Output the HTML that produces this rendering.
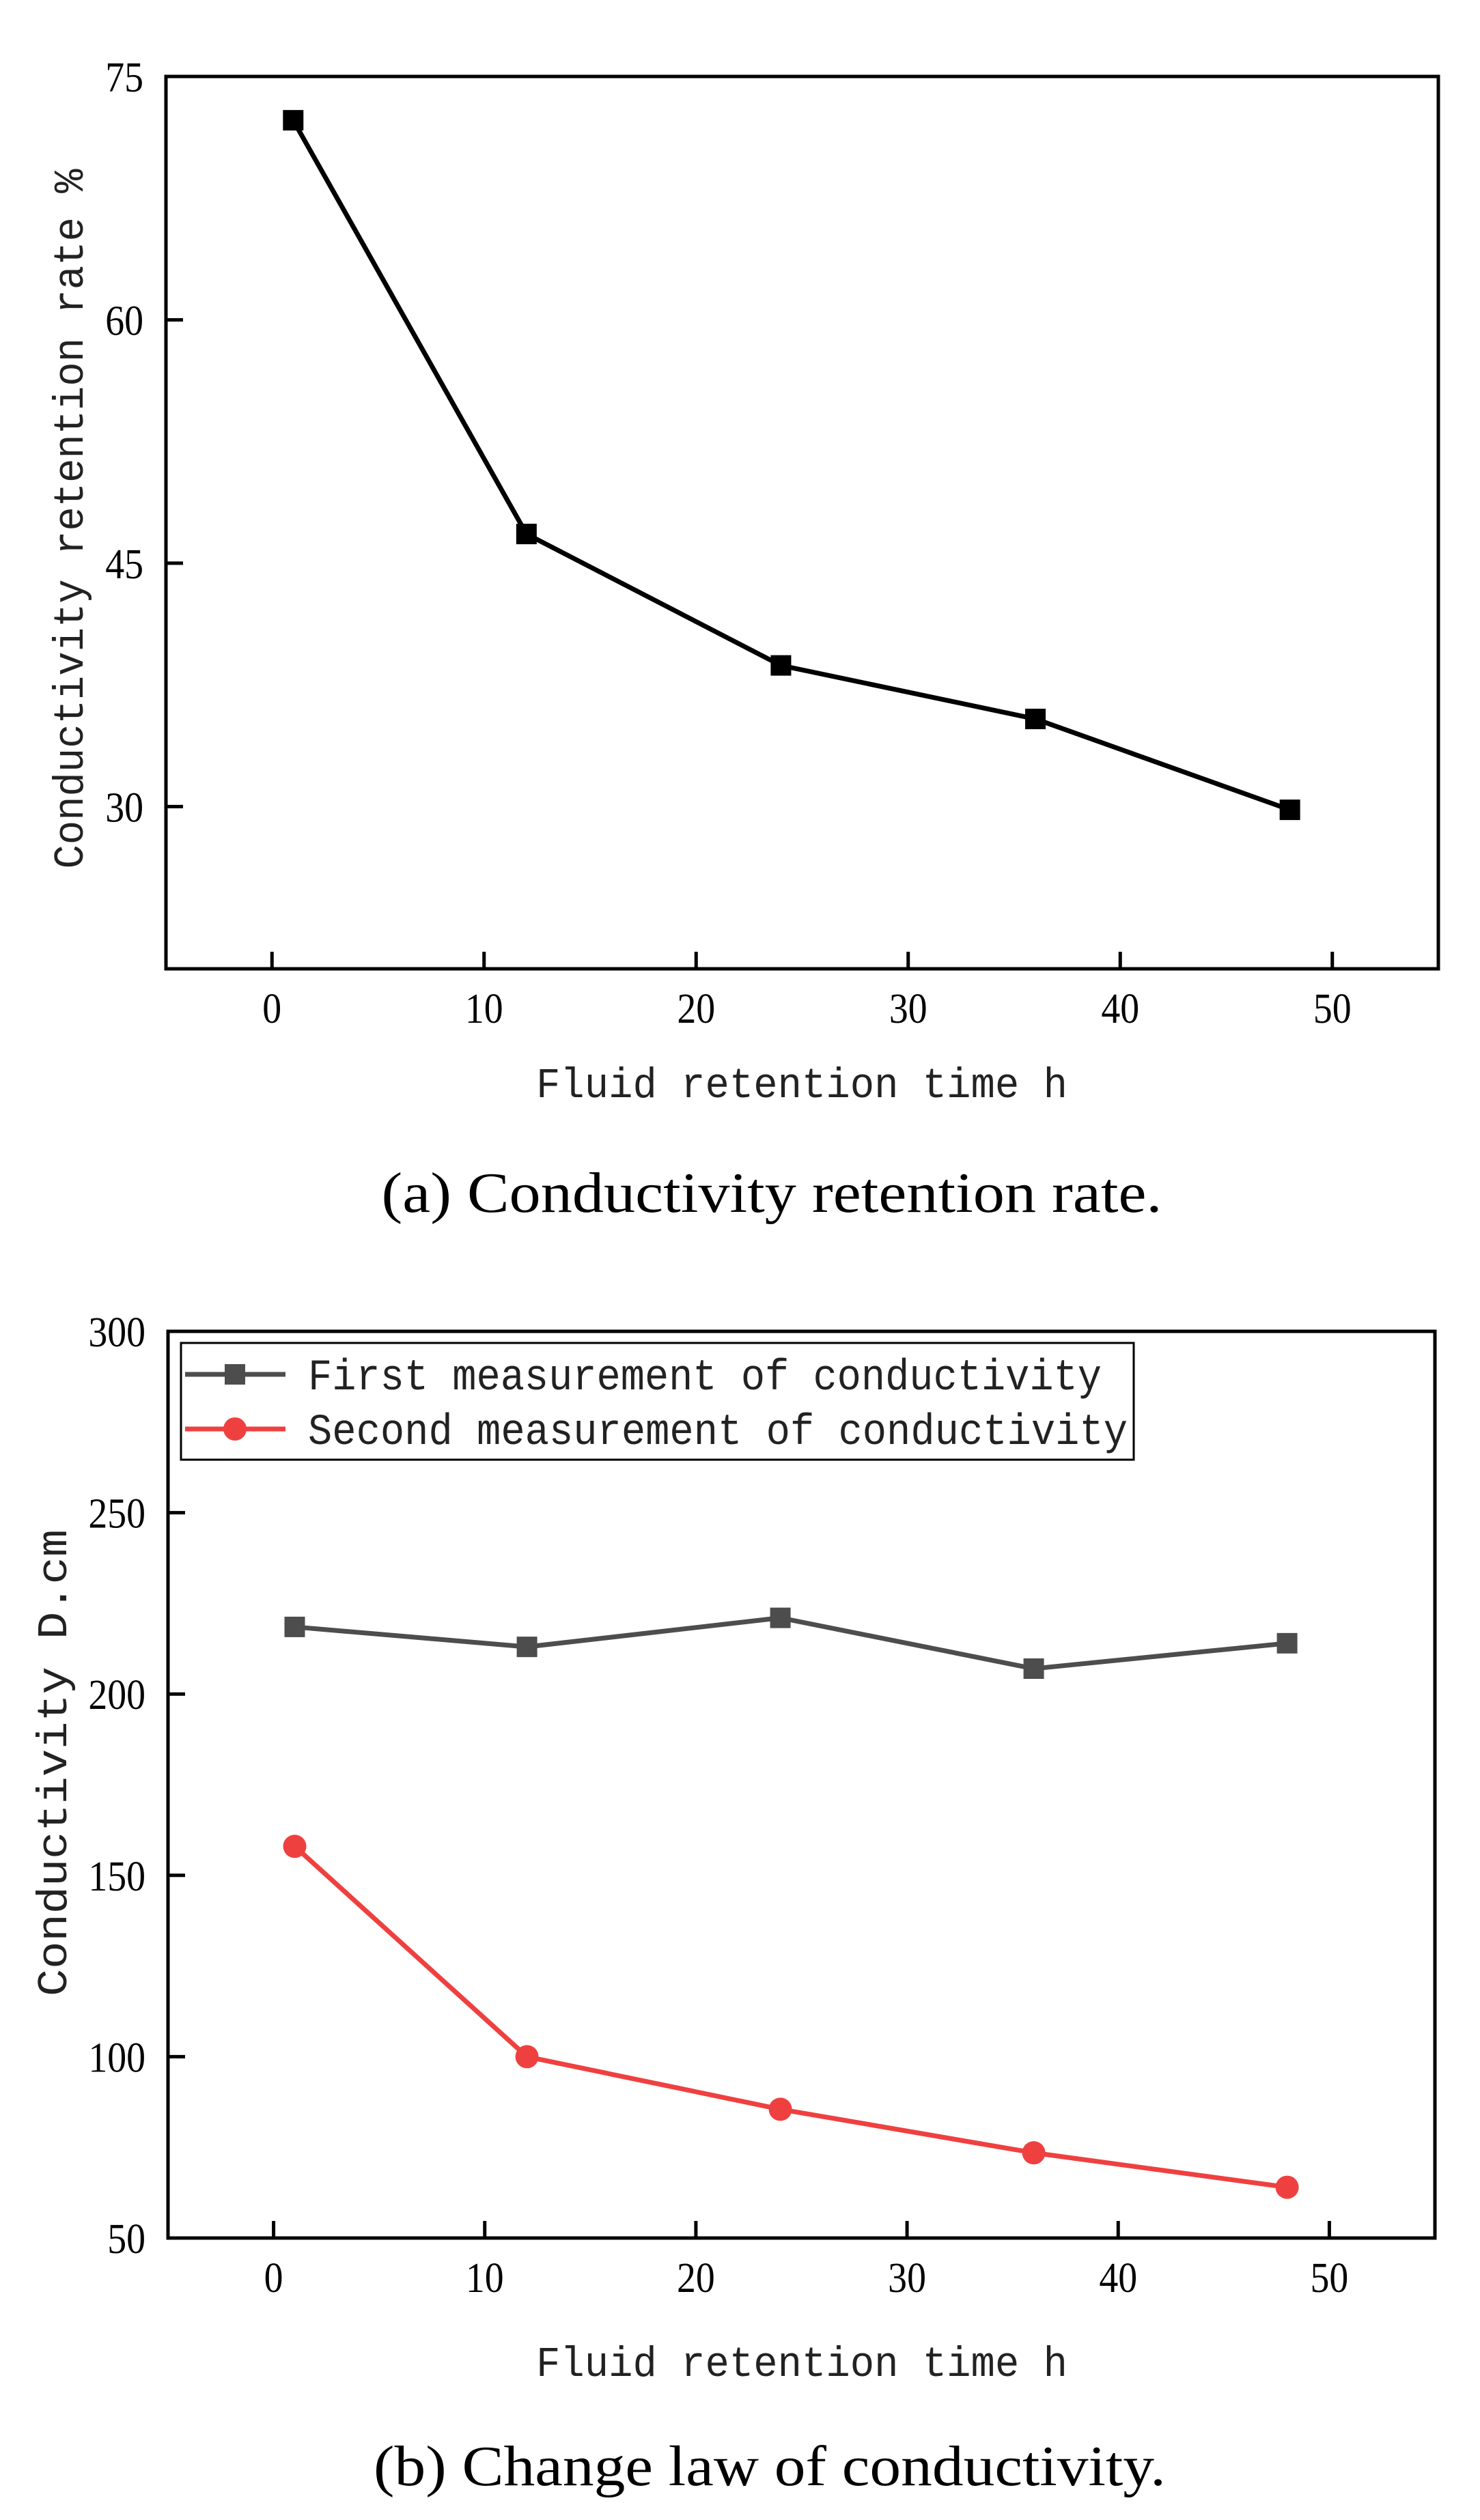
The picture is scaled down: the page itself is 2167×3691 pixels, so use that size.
<!DOCTYPE html>
<html><head><meta charset="utf-8"><style>
html,body{margin:0;padding:0;background:#fff;}
svg{display:block;}
</style></head><body>
<svg id="fig" width="2167" height="3691" viewBox="0 0 2167 3691" xmlns="http://www.w3.org/2000/svg">
<g id="chartA"></g>
<g id="chartB"></g>
</svg>
<script>
const xValues = [1, 12, 24, 36, 48];
const retentionRate = [72.3, 46.8, 38.7, 35.4, 29.8];
const firstMeasurement = [218.5, 213, 221, 207, 214];
const secondMeasurement = [158, 100, 85.5, 73.5, 64];
const xTicks = [0, 10, 20, 30, 40, 50];
const yTicksA = [30, 45, 60, 75];
const yTicksB = [50, 100, 150, 200, 250, 300];

const NS = 'http://www.w3.org/2000/svg';
function mk(parent, tag, attrs, text) {
  const e = document.createElementNS(NS, tag);
  for (const k in attrs) e.setAttribute(k, attrs[k]);
  if (text !== undefined) e.textContent = text;
  parent.appendChild(e);
  return e;
}

function drawChart(g, cfg) {
  const L = cfg.left, R = cfg.right, T = cfg.top, B = cfg.bottom;
  const xs = v => L + (v - cfg.xmin) / (cfg.xmax - cfg.xmin) * (R - L);
  const ys = v => B - (v - cfg.ymin) / (cfg.ymax - cfg.ymin) * (B - T);
  cfg.series.forEach(s => {
    const pts = xValues.map((x, i) => xs(x) + ',' + ys(s.values[i])).join(' ');
    const line = mk(g, 'polyline', {points: pts, fill: 'none', stroke: s.color, 'stroke-width': 7, 'stroke-linejoin': 'round'});
    
    
    xValues.forEach((x, i) => {
      let m;
      if (s.marker === 'square') {
        m = mk(g, 'rect', {x: xs(x) - 15, y: ys(s.values[i]) - 15, width: 30, height: 30, fill: s.color});
      } else {
        m = mk(g, 'circle', {cx: xs(x), cy: ys(s.values[i]), r: 17, fill: s.color});
      }
      
      
    });
  });
  const fr = mk(g, 'rect', {x: L, y: T, width: R - L, height: B - T, fill: 'none', stroke: '#000', 'stroke-width': 5});
  
  
  xTicks.forEach(t => {
    const tk = mk(g, 'line', {x1: xs(t), x2: xs(t), y1: B, y2: B - 25, stroke: '#000', 'stroke-width': 5});
    
    
    const lb = mk(g, 'text', {x: xs(t), y: B + 79, 'text-anchor': 'middle', 'font-family': 'Liberation Serif, serif', 'font-size': 62, transform: `translate(${xs(t)},0) scale(0.9,1) translate(${-xs(t)},0)`}, String(t));
    
    
  });
  cfg.yTicks.forEach(t => {
    const tk = mk(g, 'line', {x1: L, x2: L + 25, y1: ys(t), y2: ys(t), stroke: '#000', 'stroke-width': 5});
    
    
    const lb = mk(g, 'text', {x: L - 33, y: ys(t) + 22, 'text-anchor': 'end', 'font-family': 'Liberation Serif, serif', 'font-size': 62, transform: `translate(${L - 33},0) scale(0.9,1) translate(${-(L - 33)},0)`}, String(t));
    
    
  });
  const xt = mk(g, 'text', {x: 785, y: cfg.xTitleY, 'font-family': 'Liberation Mono, monospace', 'font-size': 62, textLength: 778, lengthAdjust: 'spacingAndGlyphs', fill: '#222'}, 'Fluid retention time h');
  
  
  const yt = mk(g, 'text', {x: 0, y: 0, 'font-family': 'Liberation Mono, monospace', 'font-size': 62, textLength: cfg.yTitleLen, lengthAdjust: 'spacingAndGlyphs', 'text-anchor': 'middle', fill: '#222', transform: `translate(${cfg.yTitleX},${cfg.yTitleY}) rotate(-90)`}, cfg.yTitle);
  
  
  const cap = mk(g, 'text', {x: cfg.capX, y: cfg.capY, 'text-anchor': 'middle', 'font-family': 'Liberation Serif, serif', 'font-size': 84, textLength: cfg.capLen, lengthAdjust: 'spacingAndGlyphs'}, cfg.caption);
  
  
}

drawChart(document.getElementById('chartA'), {
  left: 243, right: 2106, top: 112, bottom: 1419, xmin: -5, xmax: 55, ymin: 20, ymax: 75,
  yTicks: yTicksA,
  series: [{name: 'retention-rate', values: retentionRate, color: '#000', marker: 'square'}],
  xTitleY: 1607, yTitle: 'Conductivity retention rate %', yTitleX: 121, yTitleY: 760, yTitleLen: 1025,
  capX: 1130, capY: 1775, capLen: 1143, caption: '(a) Conductivity retention rate.'
});
drawChart(document.getElementById('chartB'), {
  left: 246, right: 2101, top: 1950, bottom: 3278, xmin: -5, xmax: 55, ymin: 50, ymax: 300,
  yTicks: yTicksB,
  series: [
    {name: 'first-measurement', values: firstMeasurement, color: '#4d4d4d', marker: 'square'},
    {name: 'second-measurement', values: secondMeasurement, color: '#ef4040', marker: 'circle'}
  ],
  xTitleY: 3480, yTitle: 'Conductivity D.cm', yTitleX: 97, yTitleY: 2582, yTitleLen: 684,
  capX: 1127, capY: 3640, capLen: 1160, caption: '(b) Change law of conductivity.'
});

const gB = document.getElementById('chartB');
const lg = mk(gB, 'g', {});


const lbx = mk(lg, 'rect', {x: 265, y: 1967, width: 1395, height: 171, fill: '#fff', stroke: '#000', 'stroke-width': 3});


const entries = [
  {label: 'First measurement of conductivity', color: '#4d4d4d', marker: 'square', y: 2013, len: 1162},
  {label: 'Second measurement of conductivity', color: '#ef4040', marker: 'circle', y: 2093, len: 1200}
];
entries.forEach(en => {
  const ge = mk(lg, 'g', {});
  
  
  mk(ge, 'line', {x1: 271, x2: 418, y1: en.y, y2: en.y, stroke: en.color, 'stroke-width': 7});
  if (en.marker === 'square') mk(ge, 'rect', {x: 329, y: en.y - 15, width: 30, height: 30, fill: en.color});
  else mk(ge, 'circle', {cx: 344, cy: en.y, r: 17, fill: en.color});
  mk(ge, 'text', {x: 451, y: en.y + 22, 'font-family': 'Liberation Mono, monospace', 'font-size': 64, textLength: en.len, lengthAdjust: 'spacingAndGlyphs', fill: '#222'}, en.label);
});
</script>
</body></html>
